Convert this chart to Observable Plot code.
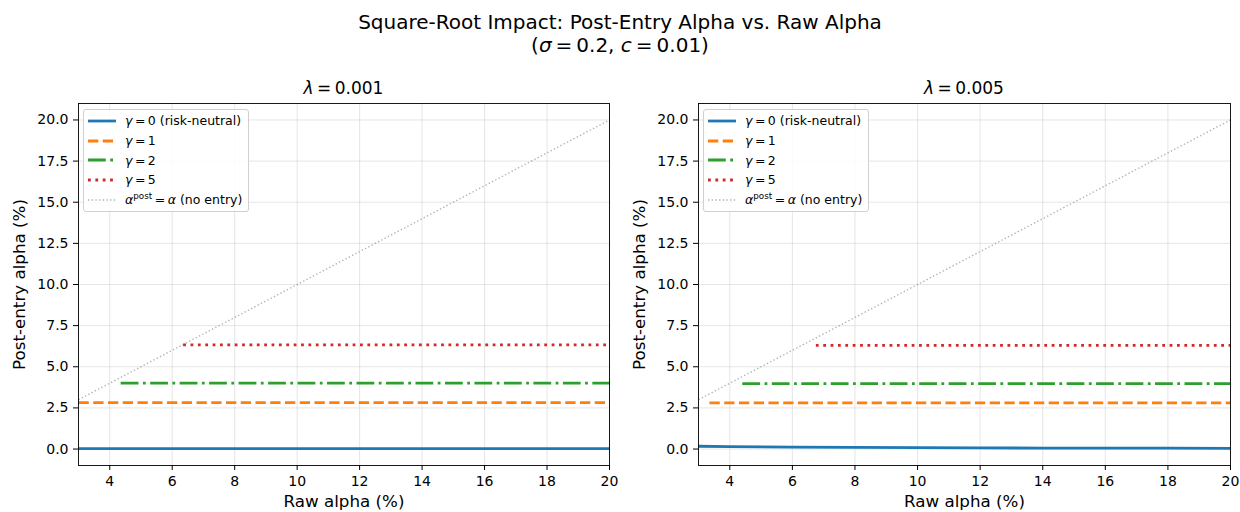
<!DOCTYPE html>
<html><head><meta charset="utf-8">
<script src="https://cdn.jsdelivr.net/npm/d3@7"></script>
<script src="https://cdn.jsdelivr.net/npm/@observablehq/plot@0.6"></script>
<style>
body{margin:0;background:#fff;font-family:"DejaVu Sans",sans-serif;color:#000;}
#wrap{position:relative;width:1240px;height:512px;overflow:hidden;}
.title{position:absolute;left:0;width:1240px;text-align:center;font-size:20px;line-height:normal;}
.sub{position:absolute;text-align:center;font-size:17px;line-height:normal;}
.panel{position:absolute;top:70px;}
.panel svg g[aria-label$="tick label"]{font-size:14px !important;}
.panel svg g[aria-label$="tick label"] text{font-size:14px !important;}
.panel svg g[aria-label$="axis label"]{font-size:16.7px !important;}
.panel svg g[aria-label$="axis label"] text{font-size:16.7px !important;}
.legend{position:absolute;background:rgba(255,255,255,0.85);border:1px solid #d0d0d0;border-radius:3px;padding:1px 6px 2px 4px;font-size:12.5px;}
.legend .row{height:19.7px;display:flex;align-items:center;white-space:nowrap;}
.legend svg{margin-right:9px;}
</style></head><body><div id="wrap"></div>
<script>
// ---- data ----
const xTicks = [4, 6, 8, 10, 12, 14, 16, 18, 20];
const yTicks = [0, 2.5, 5, 7.5, 10, 12.5, 15, 17.5, 20];
const noEntryX = [3, 20];
const noEntryY = [3, 20];
// lambda = 0.001
const l1G0X = [3, 6, 10, 14, 20];
const l1G0Y = [0.03, 0.03, 0.02, 0.02, 0.02];
const l1G1X = [3, 8, 14, 20];
const l1G1Y = [2.82, 2.82, 2.82, 2.82];
const l1G2X = [4.35, 10, 15, 20];
const l1G2Y = [4.0, 4.0, 4.0, 4.0];
const l1G5X = [6.35, 12, 16, 20];
const l1G5Y = [6.33, 6.33, 6.33, 6.33];
// lambda = 0.005
const l5G0X = [3, 4, 6, 8, 10, 12, 14, 16, 18, 20];
const l5G0Y = [0.17, 0.15, 0.12, 0.10, 0.08, 0.07, 0.06, 0.05, 0.05, 0.04];
const l5G1X = [3.35, 8, 14, 20];
const l5G1Y = [2.8, 2.8, 2.8, 2.8];
const l5G2X = [4.4, 10, 15, 20];
const l5G2Y = [3.97, 3.97, 3.97, 3.97];
const l5G5X = [6.75, 12, 16, 20];
const l5G5Y = [6.3, 6.3, 6.3, 6.3];

const seriesStyles = [
  {stroke: "#1f77b4", width: 2.78, dash: null, label: "<i>γ</i>\u2009=\u20090 (risk-neutral)"},
  {stroke: "#ff7f0e", width: 2.78, dash: "10.3,4.45", label: "<i>γ</i>\u2009=\u20091"},
  {stroke: "#2ca02c", width: 2.78, dash: "17.8,4.45,2.78,4.45", label: "<i>γ</i>\u2009=\u20092"},
  {stroke: "#d62728", width: 2.78, dash: "2.78,4.59", label: "<i>γ</i>\u2009=\u20095"}
];
const noEntryStyle = {stroke: "#808080", opacity: 0.6, width: 1.39, dash: "1.39,2.29",
  label: "<i>α</i><sup style='font-size:8.8px;vertical-align:5px;line-height:0'>post</sup>\u2009=\u2009<i>α</i> (no entry)"};

const toRows = (xs, ys) => xs.map((x, i) => ({x, y: ys[i]}));

const wrap = document.getElementById("wrap");

function addDiv(cls, html, style) {
  const d = document.createElement("div");
  d.className = cls; d.innerHTML = html;
  Object.assign(d.style, style);
  wrap.appendChild(d);
  return d;
}

addDiv("title", "Square-Root Impact: Post-Entry Alpha vs. Raw Alpha", {top: "10px"});
addDiv("title", "(<i>σ</i>\u2009=\u20090.2, <i>c</i>\u2009=\u20090.01)", {top: "33px"});

function panel(left, mr, lam, series) {
  const ml = 78;
  const plot = Plot.plot({
    width: 620, height: 442,
    marginLeft: ml, marginRight: mr, marginTop: 33, marginBottom: 47,
    style: {fontFamily: "DejaVu Sans, sans-serif", fontSize: "14px", color: "#000", background: "transparent"},
    x: {domain: [3, 20]},
    y: {domain: [-1, 21]},
    marks: [
      Plot.gridX(xTicks, {stroke: "#b0b0b0", strokeOpacity: 0.4, strokeWidth: 0.8}),
      Plot.gridY(yTicks, {stroke: "#b0b0b0", strokeOpacity: 0.4, strokeWidth: 0.8}),
      Plot.line(toRows(noEntryX, noEntryY), {x: "x", y: "y", stroke: noEntryStyle.stroke, strokeOpacity: noEntryStyle.opacity,
        strokeWidth: noEntryStyle.width, strokeDasharray: noEntryStyle.dash, strokeLinecap: "butt"}),
      ...series.map((s, i) => Plot.line(toRows(s[0], s[1]), {
        x: "x", y: "y", stroke: seriesStyles[i].stroke, strokeWidth: seriesStyles[i].width,
        strokeDasharray: seriesStyles[i].dash, strokeLinecap: "butt", curve: "linear"
      })),
      Plot.frame({stroke: "#000", strokeWidth: 0.9}),
      Plot.axisX(xTicks, {tickSize: 5, tickPadding: 6, label: "Raw alpha (%)", labelAnchor: "center", labelOffset: 41, labelArrow: "none", fontSize: 14}),
      Plot.axisY(yTicks, {tickSize: 5, tickPadding: 5, tickFormat: d => d.toFixed(1), label: "Post-entry alpha (%)", labelAnchor: "center", labelOffset: 65, labelArrow: "none", fontSize: 14})
    ]
  });
  const holder = document.createElement("div");
  holder.className = "panel";
  holder.style.left = left + "px";
  holder.appendChild(plot);
  wrap.appendChild(holder);
  // subplot title
  const axL = left + ml, axR = left + 620 - mr;
  addDiv("sub", "<i>λ</i>\u2009=\u2009" + lam, {left: axL + "px", width: (axR - axL) + "px", top: "78px"});
  // legend
  const items = [...seriesStyles.map(s => [s.stroke, 1, s.width, s.dash, s.label]),
    [noEntryStyle.stroke, noEntryStyle.opacity, noEntryStyle.width, noEntryStyle.dash, noEntryStyle.label]];
  const rows = items.map(([c, o, w, d, t]) =>
    `<div class="row"><svg width="28" height="6"><line x1="0" x2="28" y1="3" y2="3" stroke="${c}" stroke-opacity="${o}" stroke-width="${w}" ${d ? `stroke-dasharray="${d}"` : ""}/></svg><span>${t}</span></div>`).join("");
  addDiv("legend", rows, {left: (axL + 5) + "px", top: "109px"});
}

panel(0, 11, "0.001", [[l1G0X, l1G0Y], [l1G1X, l1G1Y], [l1G2X, l1G2Y], [l1G5X, l1G5Y]]);
panel(620, 10, "0.005", [[l5G0X, l5G0Y], [l5G1X, l5G1Y], [l5G2X, l5G2Y], [l5G5X, l5G5Y]]);
</script></body></html>
